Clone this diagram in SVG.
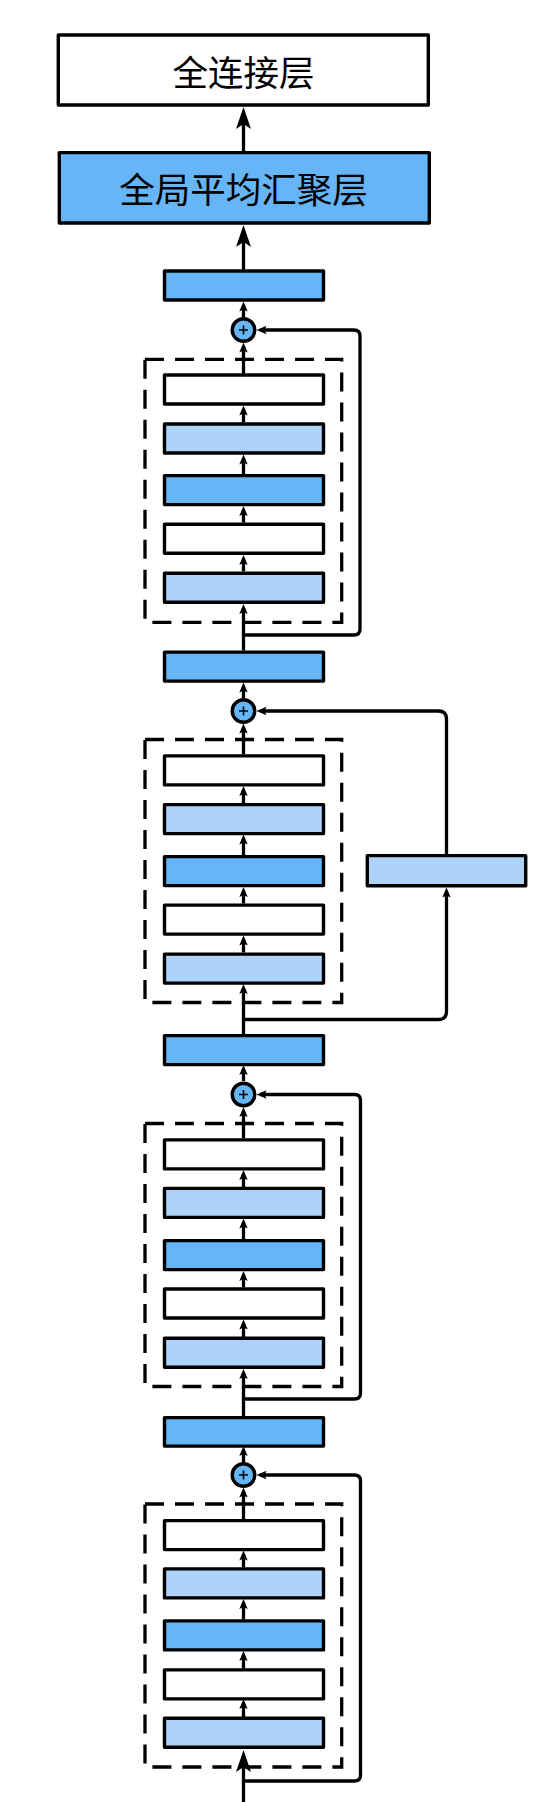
<svg xmlns="http://www.w3.org/2000/svg" width="538" height="1802" viewBox="0 0 538 1802">
<style>
.box{stroke:#000;stroke-width:3.4;stroke-linejoin:round}
.w{fill:#fff}.b{fill:#66b5f6}.l{fill:#aed3f8}
.dash{fill:none;stroke:#000;stroke-width:3.3;stroke-dasharray:19 11}
.c{fill:none;stroke:#000;stroke-width:3.3;stroke-linejoin:round}
.big{marker-end:url(#bigArrow)}
.sm{marker-end:url(#smArrow)}
.plus{stroke:#000;stroke-width:1.6}
.t{font-family:"Noto Sans CJK SC","Noto Sans",sans-serif;font-size:35.5px;fill:#000;text-anchor:middle}
</style>
<defs>
<marker id="bigArrow" markerUnits="userSpaceOnUse" viewBox="-23 -8 24 16" markerWidth="24" markerHeight="16" refX="-6" refY="0" orient="auto">
<path d="M0,0 L-22,-7.5 L-17,0 L-22,7.5 Z" fill="#000"/>
</marker>
<marker id="smArrow" markerUnits="userSpaceOnUse" viewBox="-11 -5 12 10" markerWidth="12" markerHeight="10" refX="-4" refY="0" orient="auto">
<path d="M0,0 L-10,-4.2 L-8,0 L-10,4.2 Z" fill="#000"/>
</marker>
</defs>

<g id="connectors">
<path class="c big" d="M243.5,151 V113"/>
<path class="c big" d="M243.5,269.5 V231"/>
<!-- section 1 -->
<path class="c sm" d="M243.5,317 V305.5"/>
<path class="c sm" d="M243.5,373.5 V346.5"/>
<path class="c sm" d="M243.5,422.5 V409.5"/>
<path class="c sm" d="M243.5,474 V458.5"/>
<path class="c sm" d="M243.5,522.5 V510"/>
<path class="c sm" d="M243.5,571.5 V559"/>
<path class="c sm" d="M243.5,650.5 V608"/>
<path class="c sm" d="M243.5,635 H354 Q360,635 360,629 V336 Q360,330 354,330 H260.5"/>
<!-- section 2 -->
<path class="c sm" d="M243.5,698 V686.5"/>
<path class="c sm" d="M243.5,754.5 V727.5"/>
<path class="c sm" d="M243.5,803 V790"/>
<path class="c sm" d="M243.5,855 V838.5"/>
<path class="c sm" d="M243.5,903.5 V891"/>
<path class="c sm" d="M243.5,952.5 V939.5"/>
<path class="c sm" d="M243.5,1034 V988"/>
<path class="c sm" d="M243.5,1019.5 H438.5 Q446.5,1019.5 446.5,1011.5 V891.5"/>
<path class="c sm" d="M446.5,854 V719 Q446.5,711 438.5,711 H260.5"/>
<!-- section 3 -->
<path class="c sm" d="M243.5,1081 V1069"/>
<path class="c sm" d="M243.5,1138.5 V1111"/>
<path class="c sm" d="M243.5,1187 V1174"/>
<path class="c sm" d="M243.5,1239 V1222.5"/>
<path class="c sm" d="M243.5,1287.5 V1275"/>
<path class="c sm" d="M243.5,1337 V1323.5"/>
<path class="c sm" d="M243.5,1416 V1373"/>
<path class="c sm" d="M243.5,1399 H354.5 Q360.5,1399 360.5,1393 V1100.5 Q360.5,1094.5 354.5,1094.5 H260.5"/>
<!-- section 4 -->
<path class="c sm" d="M243.5,1462 V1450"/>
<path class="c sm" d="M243.5,1519 V1491.5"/>
<path class="c sm" d="M243.5,1567.5 V1554.5"/>
<path class="c sm" d="M243.5,1619.5 V1603"/>
<path class="c sm" d="M243.5,1668.5 V1655"/>
<path class="c sm" d="M243.5,1717 V1703"/>
<path class="c big" d="M243.5,1802 V1756"/>
<path class="c sm" d="M243.5,1781 H354.5 Q360.5,1781 360.5,1775 V1481 Q360.5,1475 354.5,1475 H260.5"/>
</g>

<g id="fc"><rect class="box w" x="58.3" y="35" width="370" height="70"/><text class="t" x="243.5" y="85.5">全连接层</text></g>
<g id="gap"><rect class="box b" x="59.3" y="152.6" width="370" height="70.4"/><text class="t" x="243.5" y="203">全局平均汇聚层</text></g>
<g id="blockA"><rect class="box b" x="164.5" y="271" width="159" height="29"/></g>

<g id="add1"><circle class="box b" cx="243.5" cy="330" r="11.3"/><path class="plus" d="M239,330 H248 M243.5,325.5 V334.5"/></g>
<g id="res1">
<rect class="dash" x="145" y="359.3" width="196.7" height="263"/>
<rect class="box w" x="164.5" y="375" width="159" height="29"/>
<rect class="box l" x="164.5" y="424" width="159" height="29"/>
<rect class="box b" x="164.5" y="475.6" width="159" height="29"/>
<rect class="box w" x="164.5" y="524.2" width="159" height="29"/>
<rect class="box l" x="164.5" y="573.2" width="159" height="29"/>
</g>
<g id="blockB"><rect class="box b" x="164.5" y="652.1" width="159" height="29"/></g>

<g id="add2"><circle class="box b" cx="243.5" cy="711" r="11.3"/><path class="plus" d="M239,711 H248 M243.5,706.5 V715.5"/></g>
<g id="res2">
<rect class="dash" x="145" y="739.5" width="196.7" height="263"/>
<rect class="box w" x="164.5" y="755.9" width="159" height="29"/>
<rect class="box l" x="164.5" y="804.6" width="159" height="29"/>
<rect class="box b" x="164.5" y="856.6" width="159" height="29"/>
<rect class="box w" x="164.5" y="905.1" width="159" height="29"/>
<rect class="box l" x="164.5" y="954.1" width="159" height="29"/>
</g>
<g id="shortcut"><rect class="box l" x="367.3" y="855.6" width="158.4" height="30.2"/></g>
<g id="blockC"><rect class="box b" x="164.5" y="1035.6" width="159" height="29"/></g>

<g id="add3"><circle class="box b" cx="243.5" cy="1094.5" r="11.3"/><path class="plus" d="M239,1094.5 H248 M243.5,1090 V1099"/></g>
<g id="res3">
<rect class="dash" x="145" y="1123.5" width="196.7" height="263"/>
<rect class="box w" x="164.5" y="1139.9" width="159" height="29"/>
<rect class="box l" x="164.5" y="1188.4" width="159" height="29"/>
<rect class="box b" x="164.5" y="1240.6" width="159" height="29"/>
<rect class="box w" x="164.5" y="1289" width="159" height="29"/>
<rect class="box l" x="164.5" y="1338.3" width="159" height="29"/>
</g>
<g id="blockD"><rect class="box b" x="164.5" y="1417.6" width="159" height="28.5"/></g>

<g id="add4"><circle class="box b" cx="243.5" cy="1475" r="11.3"/><path class="plus" d="M239,1475 H248 M243.5,1470.5 V1479.5"/></g>
<g id="res4">
<rect class="dash" x="145" y="1504" width="196.7" height="263"/>
<rect class="box w" x="164.5" y="1520.6" width="159" height="29"/>
<rect class="box l" x="164.5" y="1568.9" width="159" height="29"/>
<rect class="box b" x="164.5" y="1620.9" width="159" height="29"/>
<rect class="box w" x="164.5" y="1669.9" width="159" height="29"/>
<rect class="box l" x="164.5" y="1718.3" width="159" height="29"/>
</g>
</svg>
